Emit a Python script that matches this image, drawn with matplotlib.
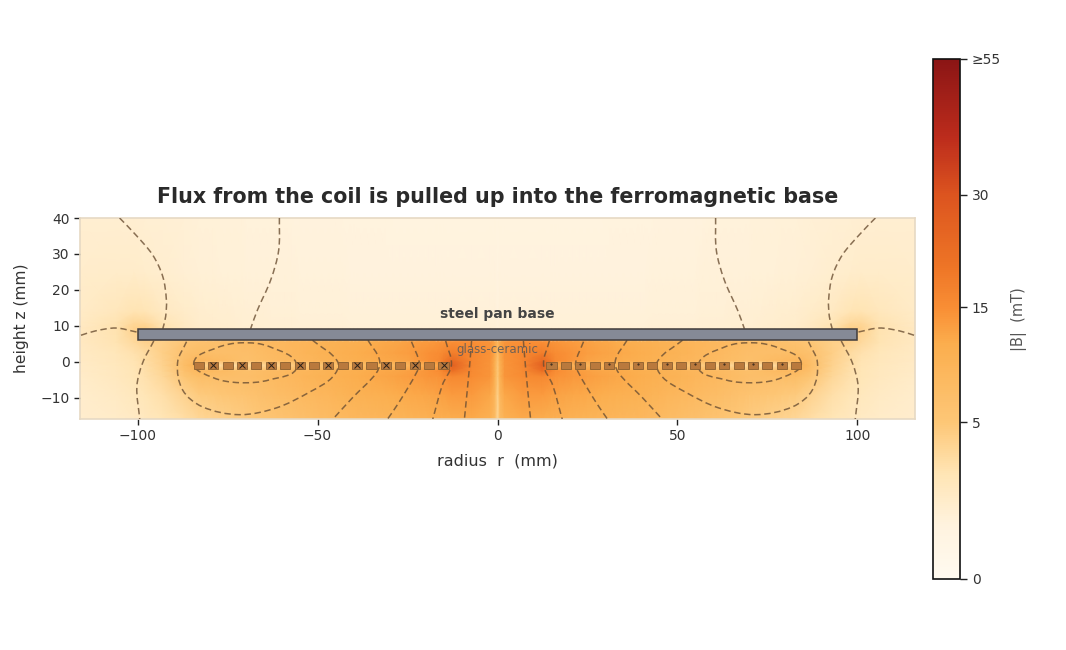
import numpy as np
import matplotlib
matplotlib.use("Agg")
import matplotlib.pyplot as plt
from matplotlib.colors import LinearSegmentedColormap, PowerNorm
from matplotlib.cm import ScalarMappable
from matplotlib.patches import Rectangle, PathPatch
from matplotlib.path import Path

plt.rcParams['font.family'] = 'DejaVu Sans'

# |B| in mT, one half of the section (mirrored in r)
r_nodes = [0, 0.7, 2, 7, 12.5, 16, 25, 40, 55, 70, 83, 87, 93, 98, 101, 106, 116]
z_nodes = [-16, -9, -4, -1, 2.5, 5.5, 9.5, 11, 14, 25, 40]
B_m16 = [3.5, 7.5, 10, 11.5, 11, 10.5, 9.5, 8.5, 6.5, 4.5, 3.4, 2.8, 2.1, 1.7, 1.5, 1.3, 1.1]
B_m9 = [4, 9, 12, 13.5, 13.5, 12.5, 11.5, 10, 8, 5.8, 4.6, 3.8, 2.7, 2.1, 1.8, 1.5, 1.2]
B_m4 = [5, 10.5, 14, 15.5, 16, 14.5, 13, 11, 9, 6.8, 7, 5.5, 3.4, 2.5, 2.1, 1.7, 1.3]
B_m1 = [5, 10.5, 14, 16, 26, 16, 12, 10.5, 8.5, 6.3, 10, 7, 3.8, 2.7, 2.2, 1.8, 1.4]
B_p2 = [7, 11.5, 14.5, 16, 18, 15.5, 13, 11, 9, 6.8, 7, 6.2, 4.2, 3, 2.5, 2, 1.5]
B_p5 = [9, 12, 14, 15, 15, 14, 12.5, 10.5, 9, 7.3, 6, 5.2, 4, 3.8, 3.2, 2.3, 1.6]
B_p9 = [0.7, 0.85, 0.85, 0.85, 0.85, 0.85, 0.85, 0.85, 0.9, 1.0, 1.3, 1.6, 2.4, 4, 3.8, 2.4, 1.6]
B_p11 = [0.7, 0.8, 0.8, 0.8, 0.8, 0.8, 0.8, 0.8, 0.85, 0.95, 1.2, 1.5, 2.1, 3.2, 3.3, 2.3, 1.5]
B_p14 = [0.6, 0.75, 0.75, 0.75, 0.75, 0.75, 0.75, 0.75, 0.8, 0.9, 1.1, 1.3, 1.6, 2.2, 2.3, 1.9, 1.4]
B_p25 = [0.55, 0.65, 0.65, 0.65, 0.65, 0.65, 0.65, 0.65, 0.7, 0.75, 0.85, 0.9, 1.05, 1.2, 1.25, 1.25, 1.15]
B_p40 = [0.5, 0.55, 0.55, 0.55, 0.55, 0.55, 0.55, 0.6, 0.65, 0.7, 0.8, 0.85, 0.9, 0.95, 1.0, 1.0, 1.0]

# coil
turn_r = [15, 19, 23, 27, 31, 35, 39, 43, 47, 51, 55, 59, 63, 67, 71, 75, 79, 83]
gap_r = [17, 21, 25, 29, 33, 37, 41, 45, 49, 53, 57, 61, 65, 69, 73, 77, 81]
gap_B = [10, 8.5, 8, 7.5, 7, 6.5, 6, 5.5, 5, 4.5, 4, 3.5, 3, 2.6, 2.4, 2.6, 3.5]
marked_r = [15, 23, 31, 39, 47, 55, 63, 71, 79]
coil_rows_z = [-2.5, 0.5]

# field lines (mirrored in r)
lines = [
    ([105, 100.5, 95.8, 93, 92, 92.2, 93], [40, 35.3, 29.7, 23.7, 17.2, 12.6, 9.2]),
    ([100.3, 106, 111.7, 116], [8.3, 9.4, 8.6, 7.3]),
    ([95.5, 98.6, 100.2, 99.4], [5.8, -0.3, -6.9, -16]),
    ([51.4, 44.4, 45.8, 52, 61.4, 71.7, 82, 87.5, 88.9, 86.4],
     [6, 0, -4.2, -8.3, -12.8, -14.7, -12.5, -7.8, -0.3, 5.6]),
    ([84.4, 78, 71, 63.3, 55.8, 63.3, 71.7, 79, 84.4],
     [-0.3, 3.9, 5.3, 4.2, -1.2, -5, -5.8, -4.4, -0.3]),
    ([60.6, 60.8, 63, 66.7, 68.6], [40, 31, 22.8, 14.4, 9.2]),
    ([36, 32.8, 33.6, 40.3, 45.8], [6, 0.6, -3, -10, -16]),
    ([23.9, 21.7, 22.5, 27.2, 30.6], [5.6, -0.3, -3, -11, -16]),
    ([14.4, 12.8, 15.3, 18], [5.8, -0.8, -6.4, -16]),
    ([7.2, 7.8, 9.2], [5.8, -1.6, -16]),
]

bar_ticks = [0, 5, 15, 30, 55]
bar_labels = ['0', '5', '15', '30', '≥55']
cmap_pos = [0, 0.1, 0.2, 0.3, 0.45, 0.52, 0.6, 0.74, 0.85, 1.0]
cmap_col = ['#fffaf0', '#fff3df', '#ffe5b5', '#fdc777', '#fbae4e', '#f98f35',
            '#ee7526', '#dc541f', '#bc2c1c', '#8b1515']

cmap = LinearSegmentedColormap.from_list('flux', list(zip(cmap_pos, cmap_col)))
norm = PowerNorm(gamma=0.5, vmin=0, vmax=55)

table = np.array([B_m16, B_m9, B_m4, B_m1, B_p2, B_p5, B_p9, B_p11, B_p14, B_p25, B_p40], float)
r_half = np.array(sorted(set(r_nodes) | set(turn_r) | set(gap_r)), float)
fine_r = np.array([np.interp(r_half, r_nodes, row) for row in table])
z_all = np.array(sorted(set(z_nodes) | set(coil_rows_z)), float)
fine = np.array([np.interp(z_all, z_nodes, col) for col in fine_r.T]).T
row_coil = np.where(z_all == -1)[0][0]
for gr, gb in zip(gap_r, gap_B):
    fine[row_coil, np.where(r_half == gr)[0][0]] = gb
r_all = np.concatenate([-r_half[:0:-1], r_half])
B_all = np.hstack([fine[:, :0:-1], fine])

fig = plt.figure(figsize=(10.66, 6.5), dpi=100)
ax = fig.add_axes([80 / 1066, 1 - 419 / 650, 835 / 1066, 201 / 650])
ax.pcolormesh(r_all, z_all, B_all, cmap=cmap, norm=norm, shading='gouraud', zorder=1)


def smooth_path(xs, ys):
    p = np.column_stack([xs, ys]).astype(float)
    closed = np.allclose(p[0], p[-1])
    n = len(p)
    tang = np.zeros_like(p)
    for i in range(n):
        if closed:
            a = p[(i - 1) % (n - 1)]
            b = p[(i + 1) % (n - 1)] if i < n - 1 else p[1]
            if i == n - 1:
                a = p[n - 2]
        else:
            a, b = p[max(i - 1, 0)], p[min(i + 1, n - 1)]
        d = b - a
        tang[i] = d / (np.hypot(*d) + 1e-9)
    verts = [p[0]]
    codes = [Path.MOVETO]
    for i in range(n - 1):
        L = np.hypot(*(p[i + 1] - p[i])) / 3
        verts += [p[i] + tang[i] * L, p[i + 1] - tang[i + 1] * L, p[i + 1]]
        codes += [Path.CURVE4] * 3
    return Path(verts, codes)


for rs, zs in lines:
    for side in (-1, 1):
        ax.add_patch(PathPatch(smooth_path(side * np.array(rs), zs), fill=False,
                               edgecolor='#6b4f33', lw=1.1, ls=(0, (4.2, 2.4)),
                               alpha=0.8, zorder=3))

ax.add_patch(Rectangle((-100, 6), 200, 3.1, facecolor='#858a96', edgecolor='#403c3c',
                       lw=1.1, zorder=4))
for side in (-1, 1):
    for r in turn_r:
        ax.add_patch(Rectangle((side * r - 1.4, -2), 2.8, 2, facecolor='#b9793d',
                               edgecolor='#8a5f30', lw=0.6, zorder=5))
ax.plot(-np.array(marked_r), [-1] * len(marked_r), ls='none', marker='x', ms=4.5,
        mew=0.7, color='#2a2018', zorder=6)
ax.plot(marked_r, [-0.6] * len(marked_r), ls='none', marker='.', ms=1.0,
        color='#2a2018', zorder=6)

ax.text(0, 13.4, 'steel pan base', ha='center', va='center', fontsize=10,
        fontweight='bold', color='#444444', zorder=7)
ax.text(0, 3.3, 'glass-ceramic', ha='center', va='center', fontsize=8.5,
        color='#5a5a5a', alpha=0.85, zorder=7)

ax.set_xlim(-116, 116)
ax.set_ylim(-15.9, 40)
ax.set_xticks([-100, -50, 0, 50, 100])
ax.set_yticks([-10, 0, 10, 20, 30, 40])
ax.tick_params(length=4, width=1, color='#222222', labelcolor='#333333', labelsize=10)
for s in ax.spines.values():
    s.set_color('#e6d9c4')
    s.set_linewidth(1.2)
ax.set_xlabel('radius  r  (mm)', fontsize=11.5, color='#333333', labelpad=7)
ax.set_ylabel('height z (mm)', fontsize=11.2, color='#333333', labelpad=8)
ax.set_title('Flux from the coil is pulled up into the ferromagnetic base',
             fontsize=14.9, fontweight='bold', color='#2a2a2a', pad=10.5)

cax = fig.add_axes([933 / 1066, 1 - 579 / 650, 27 / 1066, 520 / 650])
cb = fig.colorbar(ScalarMappable(norm=norm, cmap=cmap), cax=cax)
cb.set_ticks(bar_ticks)
cb.set_ticklabels(bar_labels)
cb.ax.tick_params(length=5, width=1, color='#222222', labelcolor='#333333', labelsize=10)
cb.outline.set_edgecolor('#111111')
cb.outline.set_linewidth(1.2)
cb.set_label('|B|  (mT)', fontsize=10.5, color='#555555', labelpad=7)

fig.savefig('out.png', dpi=100)
